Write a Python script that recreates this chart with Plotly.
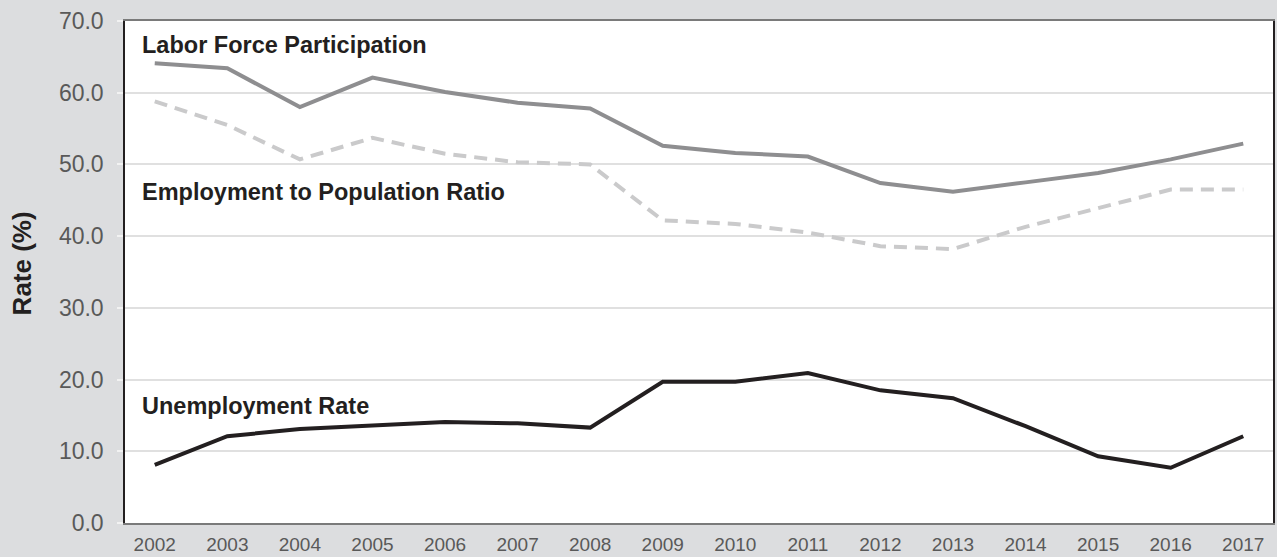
import plotly.graph_objects as go

years = [str(y) for y in range(2002, 2018)]
labor_force = [64.1, 63.4, 58.0, 62.1, 60.1, 58.6, 57.8, 52.6, 51.6, 51.1, 47.4, 46.2, 47.5, 48.8, 50.7, 52.9]
employment_ratio = [58.8, 55.5, 50.7, 53.7, 51.5, 50.3, 50.0, 42.2, 41.7, 40.5, 38.6, 38.2, 41.3, 43.9, 46.5, 46.5]
unemployment = [8.1, 12.1, 13.1, 13.6, 14.1, 13.9, 13.3, 19.7, 19.7, 20.9, 18.5, 17.4, 13.5, 9.3, 7.7, 12.1]
y_ticks = [0, 10, 20, 30, 40, 50, 60, 70]

font_family = "Liberation Sans, Arial, sans-serif"
x_idx = list(range(len(years)))

fig = go.Figure()
fig.add_trace(go.Scatter(x=x_idx, y=labor_force, mode="lines",
                         line=dict(color="#8e8e90", width=4), name="Labor Force Participation"))
fig.add_trace(go.Scatter(x=x_idx, y=employment_ratio, mode="lines",
                         line=dict(color="#cacacb", width=4, dash="13px,8px"),
                         name="Employment to Population Ratio"))
fig.add_trace(go.Scatter(x=x_idx, y=unemployment, mode="lines",
                         line=dict(color="#231f20", width=4), name="Unemployment Rate"))

labels = [("Labor Force Participation", 66.7), ("Employment to Population Ratio", 46.1),
          ("Unemployment Rate", 16.25)]
for text, yv in labels:
    fig.add_annotation(x=0, xref="paper", xanchor="left", xshift=15, y=yv, yref="y",
                       yanchor="middle", text="<b>" + text + "</b>", showarrow=False,
                       font=dict(family=font_family, size=23.5, color="#231f20"))

# Vertical axis title, placed beside the tick labels
fig.add_annotation(x=0, xref="paper", xanchor="center", xshift=-103, y=36.2, yref="y",
                   yanchor="middle", text="<b>Rate (%)</b>", textangle=-90, showarrow=False,
                   font=dict(family=font_family, size=26, color="#231f20"))

fig.update_layout(
    width=1277, height=557,
    margin=dict(l=125, r=2, t=21, b=32),
    paper_bgcolor="#dcdddf",
    plot_bgcolor="#ffffff",
    showlegend=False,
    font=dict(family=font_family),
)
fig.update_xaxes(
    range=[-0.41, 15.41], tickmode="array", tickvals=x_idx, ticktext=years,
    tickfont=dict(size=19, color="#595959"), showgrid=False, zeroline=False,
    showline=True, linecolor="#7a7a7a", linewidth=1.5, mirror=True, ticks="",
    ticklabelstandoff=3,
)
fig.update_yaxes(
    range=[0, 70], tickmode="array", tickvals=y_ticks,
    ticktext=[f"{v:.1f}" for v in y_ticks],
    tickfont=dict(size=23, color="#595959"), showgrid=True, gridcolor="#e0e0e0", gridwidth=1.5,
    zeroline=False, showline=True, linecolor="#231f20", linewidth=1.5, mirror=True,
    ticks="outside", ticklen=6, tickcolor="#f2f2f2", tickwidth=1.5, ticklabelstandoff=9,
)

fig.write_html("out.html")
